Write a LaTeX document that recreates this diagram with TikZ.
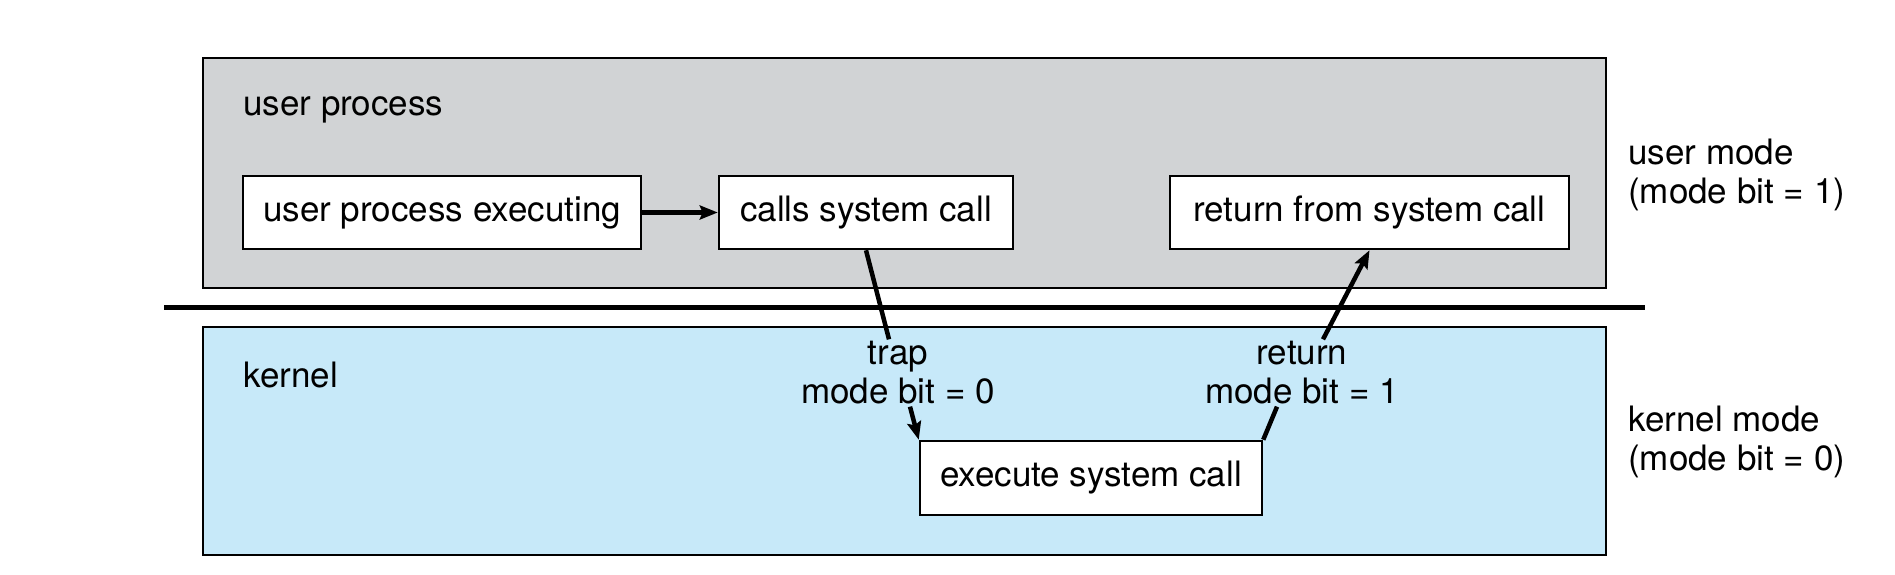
\documentclass[tikz,border=0pt]{standalone}
\usepackage{fontspec}
\setmainfont{TeX Gyre Heros}
\usetikzlibrary{arrows.meta}
\definecolor{usergray}{RGB}{209,211,213}
\definecolor{kernelblue}{RGB}{199,233,249}
\begin{document}
\begin{tikzpicture}[x=1pt,y=-1pt,
  every node/.style={font=\fontsize{35}{39}\selectfont},
  callbox/.style={draw,line width=2.5pt,fill=white,minimum height=73pt,inner sep=0pt},
  link/.style={line width=4.5pt,-{Stealth[length=18pt,width=14pt,inset=3pt]}}]
\useasboundingbox (0,0) rectangle (1895,575);

% the two modes
\path[draw,line width=2.5pt,fill=usergray] (203,58) rectangle (1606,288);
\path[draw,line width=2.5pt,fill=kernelblue] (203,327) rectangle (1606,555);
\path[draw,line width=5pt] (164,307) -- (1645,307);

\node[anchor=base west,inner sep=0pt] (userlbl) at (243,116) {user process};
\node[anchor=base west,inner sep=0pt] (kernellbl) at (243,387) {kernel};
\node[anchor=west,align=left,inner sep=0pt] (usermode) at (1628,175) {user mode\\(mode bit = 1)};
\node[anchor=west,align=left,inner sep=0pt] (kernelmode) at (1628,442) {kernel mode\\(mode bit = 0)};

% steps
\node[callbox,minimum width=398pt] (upe) at (442,212.5) {user process executing};
\node[callbox,minimum width=294pt] (calls) at (866,212.5) {calls system call};
\node[callbox,minimum width=399pt] (retsys) at (1369.5,212.5) {return from system call};
\node[callbox,minimum width=342pt,minimum height=74pt] (execsys) at (1091,478) {execute system call};

\node[align=center,inner sep=2pt] (traplbl) at (898,373) {trap\\mode bit = 0};
\node[align=center,inner sep=2pt] (retlbl) at (1302,373) {return\\mode bit = 1};

\path[draw,link] (upe) -- (calls);
\path[draw,line width=4.5pt] (calls.south) -- ([xshift=-9pt]traplbl.north);
\path[draw,link] ([xshift=12pt]traplbl.south) -- (execsys.north west);
\path[draw,line width=4.5pt] (execsys.north east) -- ([xshift=-25pt]retlbl.south);
\path[draw,link] ([xshift=21pt]retlbl.north) -- (retsys.south);
\end{tikzpicture}
\end{document}
